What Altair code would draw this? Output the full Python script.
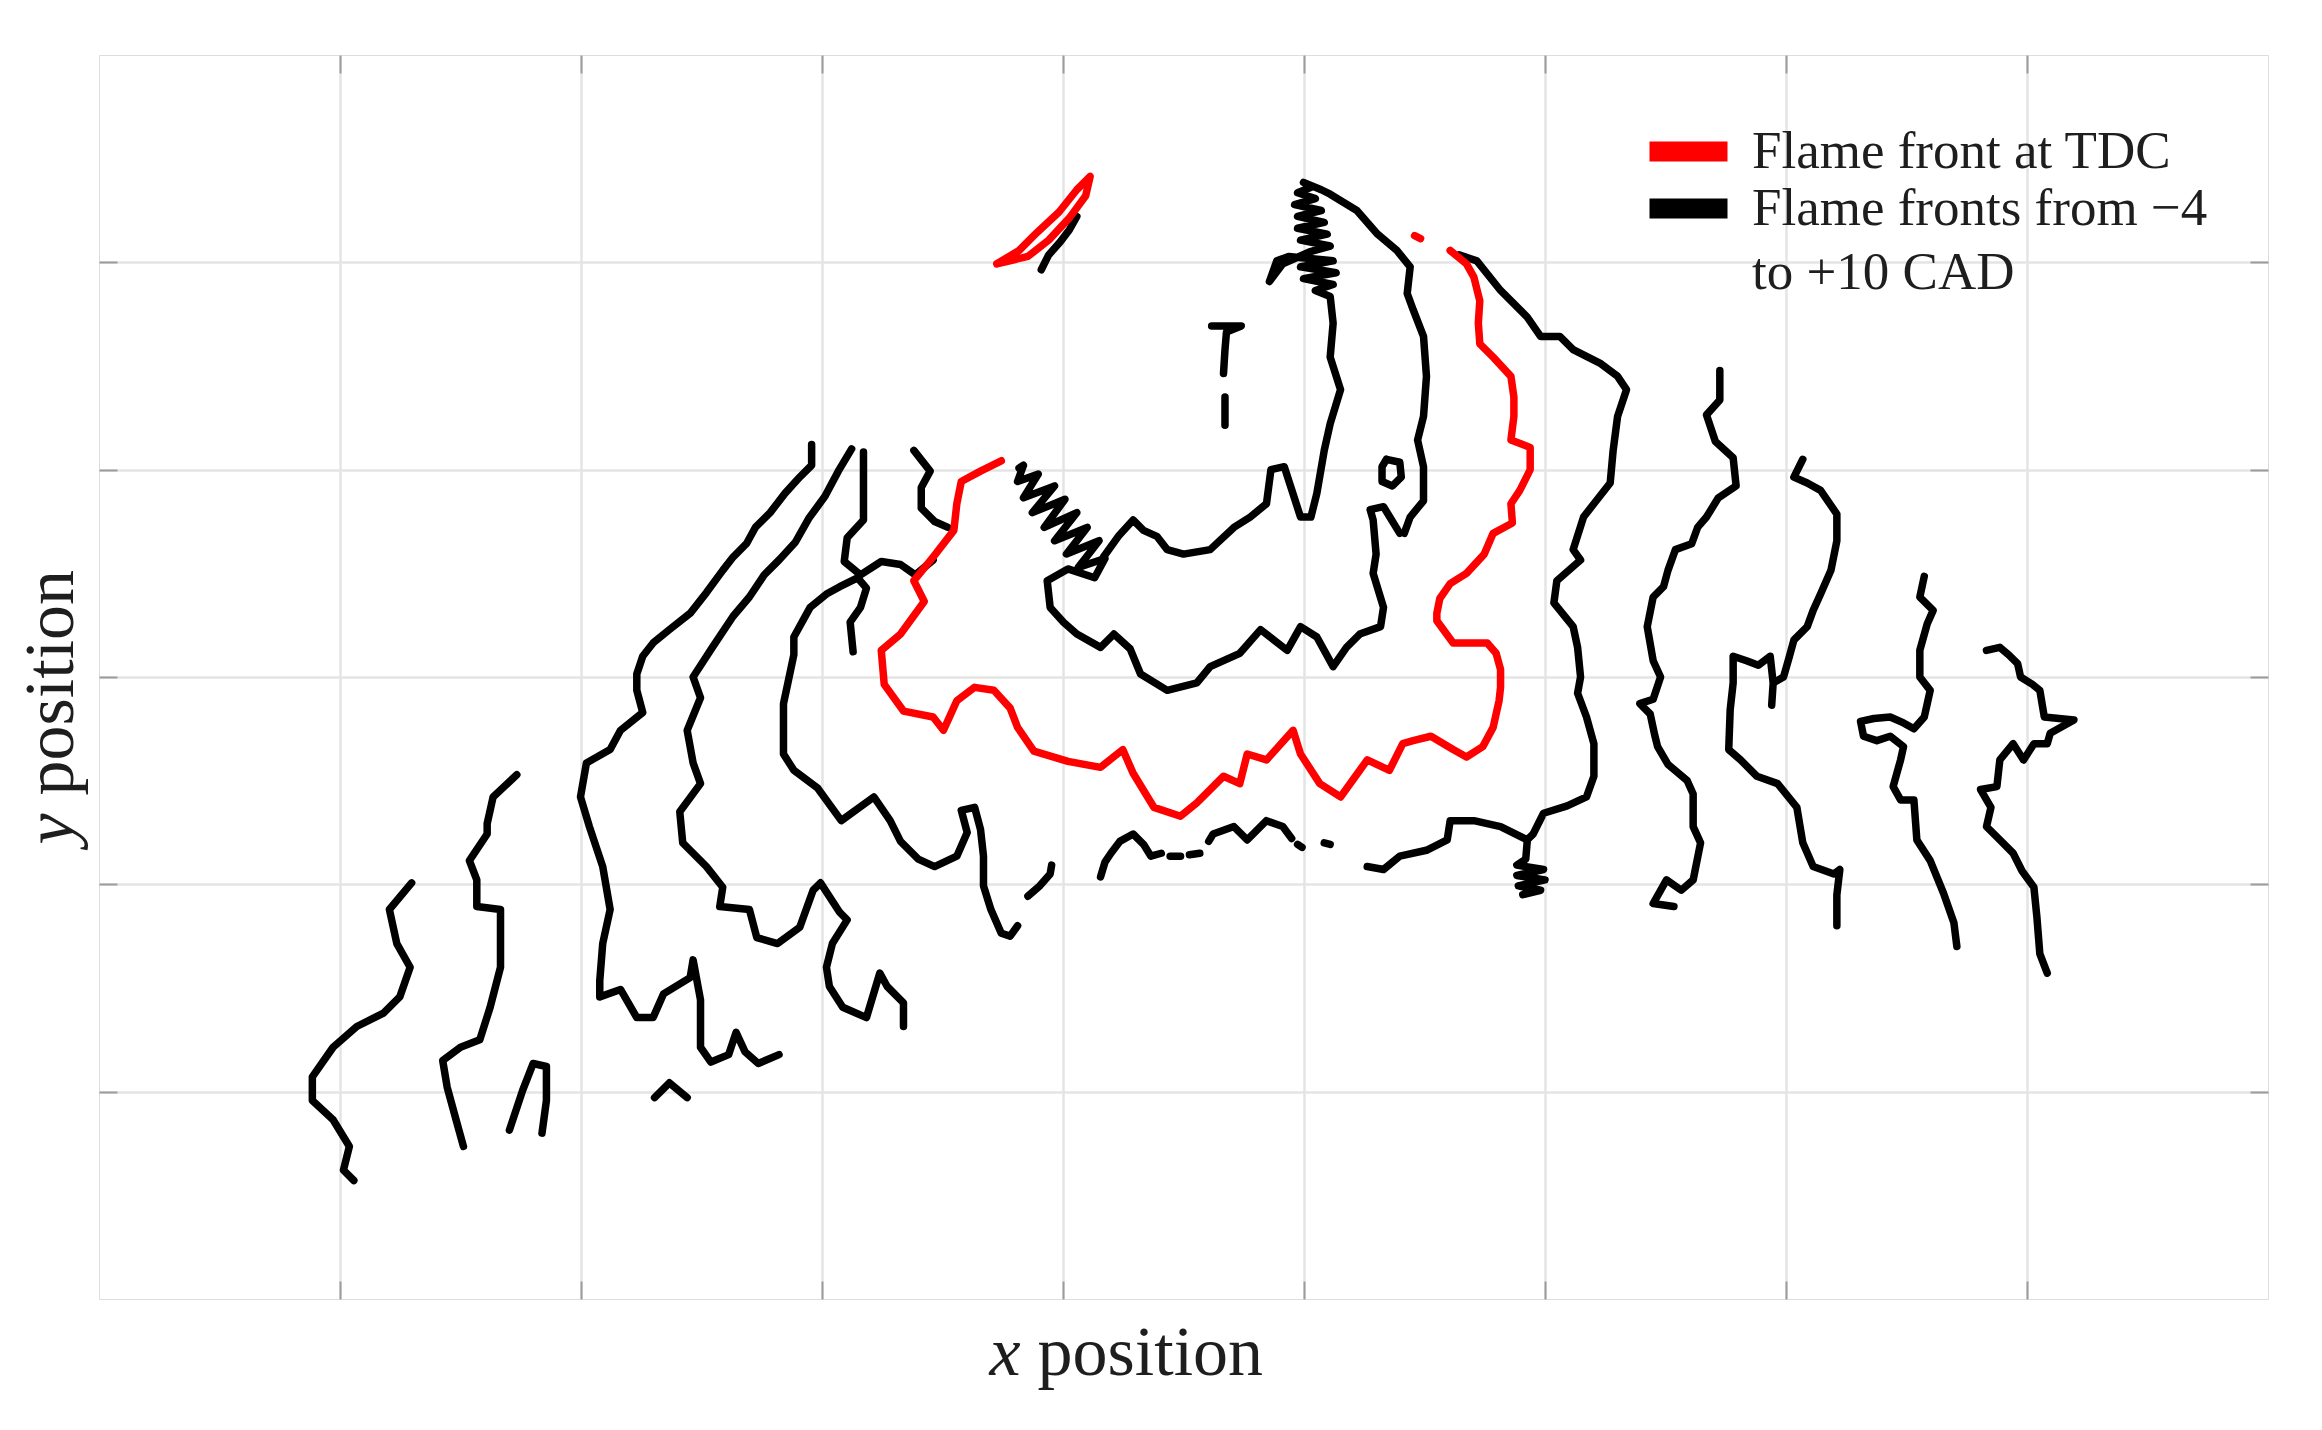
import altair as alt
import pandas as pd

# ---------------------------------------------------------------
# Flame-front contours traced in the image plane (position units,
# y grows downward as in the camera image).
# ---------------------------------------------------------------
tdc_main = [(979,169),(990,178),(995,187),(999,203),(998,218),(999,232),(1008,241),(1020,254),(1022,268),
            (1022,281),(1020,297),(1033,302),(1033,317),(1026,331),(1020,340),(1021,353),(1008,360),(1002,374),
            (990,387),(979,394),(972,404),(970,414),(970,419),(981,434),(1004,434),(1010,441),(1013,452),
            (1013,464),(1012,473),(1008,491),(1001,504),(990,511),(981,506),(966,497),(954,500),(947,502),
            (938,520),(923,513),(918,520),(905,538),(891,529),(878,509),(873,493),(855,513),(842,509),
            (837,529),(826,524),(808,542),(797,551),(779,545),(765,522),(758,506),(743,518),(721,514),
            (698,507),(687,491),(682,478),(671,466),(658,464),(646,473),(637,493),(630,484),(610,480),
            (597,462),(595,439),(608,428),(624,406),(617,392),(630,376),(644,358),(646,340),(649,325),
            (662,318),(676,311)]
tdc_sliver = [(673,178),(688,169),(700,157),(715,143),(727,128),(736,119),(733,132),(722,147),(708,162),
              (694,173),(673,178)]
tdc_dot = [(955,159),(959,161)]

front_a = [(278,596),(263,614),(268,637),(277,653),(270,673),(259,684),(241,693),(225,707),(211,727),
           (211,743),(225,756),(236,774),(232,790),(239,797)]
front_b = [(349,523),(333,538),(329,556),(329,563),(317,581),(322,594),(322,612),(338,614),(338,630),
           (338,653),(331,680),(324,702),(311,707),(299,716),(302,734),(308,756),(313,774)]
front_c = [(344,763),(353,736),(360,718),(369,720),(369,743),(366,765)]
front_d = [(442,741),(452,731),(464,741)]
front_f = [(548,300),(548,314),(540,322),(530,333),(520,346),(510,356),(504,367),(495,376),(488,385),
           (477,400),(466,414),(452,425),(441,434),(434,443),(430,455),(430,466),(434,481),(419,493),
           (412,506),(396,515),(392,538),(398,558),(407,585),(412,614),(407,637),(405,662),(405,673),
           (419,668),(430,687),(441,687),(448,671),(466,660),(468,648),(473,675),(473,707),(480,717),
           (492,712),(497,697),(503,710),(512,718),(526,712)]
front_g = [(575,303),(566,318),(557,335),(546,350),(537,366),(526,378),(516,388),(506,403),(495,416),
           (481,437),(468,457),(473,471),(464,493),(468,515),(473,529),(459,548),(461,569),(477,585),
           (488,599),(486,612),(506,614),(511,633),(525,637),(540,626),(549,601),(554,596),(567,616),
           (572,621),(562,637),(558,653),(560,666),(569,680),(585,687),(594,657),(599,666),(610,677),
           (610,693)]
front_h_top = [(583,305),(583,320),(583,336),(583,351),(572,363),(570,379),(581,388),(595,379),(608,381),
               (618,388),(630,378)]
front_h_low = [(576,440),(574,420),(581,410),(585,397),(579,390),(567,396),(558,401),(547,410),(536,430),
               (536,442),(529,475),(529,509),(536,520),(552,532),(568,554),(590,538),(601,554),(608,568),
               (620,580),(631,585),(646,578),(653,562),(649,547),(658,545),(662,560),(664,578),(664,598),
               (669,614),(676,630),(682,632),(687,625)]
front_q = [(617,304),(628,318),(622,329),(622,343),(631,352),(640,356)]
front_top = [(703,182),(708,172),(716,163),(722,155),(727,146)]
front_i1 = [(818,220),(838,220),(828,224),(827,236),(826,252)]
front_i2 = [(827,268),(827,287)]
front_inner_c = [(745,376),(755,362),(765,351),(772,358),(781,362),(788,371),(799,374),(817,371),(833,356),
                 (844,349),(855,340),(858,317),(867,315),(878,349),(885,349),(889,333),(894,304),(898,286),
                 (905,263),(898,241),(900,218),(898,200),(888,196),(900,192),(880,188),(902,184),(878,180),
                 (900,176),(870,173),(862,176),(857,190),(866,178),(884,170),(898,166),(878,162),(896,158),
                 (876,154),(894,150),(876,146),(892,142),(874,138),(888,134),(876,130),(886,126),(880,123),
                 (892,128),(898,131),(916,142),(930,158),(943,169),(952,180),(950,198),
                 (954,209),(961,227),(963,254),(961,281),(957,297),(961,315),(961,338),(952,349),(948,360)]
front_inner_u = [(688,316),(691,314),(687,325),(701,320),(691,336),(712,328),(697,346),(719,337),(705,356),
                 (727,346),(712,365),(734,356),(720,374),(742,365),(728,383),(746,377),(739,390),
                 (721,384),(707,392),(709,410),(718,420),(727,428),(743,437),(752,428),(763,438),(770,455),
                 (788,466),(808,461),(817,450),(837,441),(851,425),(869,439),(878,423),(889,430),(900,450),
                 (909,437),(918,428),(932,423),(934,410),(927,387),(929,374),(927,351),(925,344),(934,342),
                 (945,360)]
front_loop = [(936,310),(945,312),(946,322),(940,328),(933,325),(933,315),(936,310)]
front_k = [(985,172),(997,176),(1013,196),(1031,214),(1040,227),(1053,227),(1062,236),(1080,245),(1092,254),
           (1098,263),(1092,281),(1089,304),(1087,326),(1076,340),(1069,349),(1062,371),(1067,378),(1051,392),
           (1049,407),(1062,423),(1065,437),(1067,457),(1065,468),(1071,484),(1076,502),(1076,524),(1071,538),
           (1058,544),(1042,549),(1035,563),(1031,567),(1013,558),(995,554),(979,554),(977,567),(963,574),
           (945,578),(934,587),(923,585)]
front_k_blob = [(1031,568),(1030,580),(1024,584),(1042,587),(1024,591),(1043,594),(1025,598),(1040,601),
                (1028,604)]
front_l1 = [(743,592),(746,582),(750,576),(756,568),(765,563),(772,570),(777,578),(784,576)]
front_l2 = [(790,578),(797,578)]
front_l3 = [(803,577),(810,576)]
front_l4 = [(816,568),(819,563),(833,558),(842,567),(855,554),(866,558),(872,566)]
front_l5 = [(876,570),(879,572)]
front_l6 = [(894,569),(898,570)]
front_slash = [(694,605),(702,598),(709,590),(710,584)]
front_m = [(1161,250),(1161,270),(1152,280),(1158,298),(1170,309),(1172,328),(1160,336),(1152,349),(1146,356),
           (1142,367),(1131,371),(1126,385),(1123,396),(1116,403),(1112,423),(1116,446),(1121,457),(1116,472),
           (1107,475),(1114,482),(1117,496),(1119,504),(1126,516),(1139,527),(1143,536),(1143,558),(1148,569),
           (1143,594),(1135,601),(1125,594),(1116,610),(1130,612)]
front_n = [(1217,310),(1211,322),(1220,326),(1229,331),(1240,347),(1240,365),(1236,385),(1229,401),(1224,412),
           (1220,423),(1211,432),(1208,443),(1204,457),(1197,461),(1196,476),(1197,461),(1195,443),(1187,449),
           (1179,446),(1170,443),(1170,461),(1168,479),(1167,506),(1175,513),(1186,524),(1200,529),(1213,545),
           (1217,569),(1224,585),(1238,590),(1242,587),(1240,604),(1240,625)]
front_o = [(1299,389),(1296,403),(1305,412),(1301,421),(1296,439),(1296,457),(1303,466),(1299,484),(1292,492),
           (1285,488),(1276,484),(1265,485),(1256,487),(1258,497),(1267,500),(1276,497),(1285,504),(1283,513),
           (1278,531),(1283,540),(1292,540),(1294,567),(1303,581),(1312,603),(1319,623),(1321,639)]
front_p = [(1341,439),(1350,437),(1356,442),(1362,448),(1364,457),(1372,462),(1377,466),(1380,484),(1400,486),
           (1384,495),(1382,502),(1373,502),(1366,513),(1359,502),(1350,513),(1348,531),(1337,533),(1344,545),
           (1341,558),(1350,567),(1359,576),(1365,588),(1373,599),(1375,619),(1377,644),(1382,657)]

LABEL_TDC = "Flame front at TDC"
LABEL_CAD = "Flame fronts from \u22124\nto +10 CAD"

red_segments = {"tdc_main": tdc_main, "tdc_sliver": tdc_sliver, "tdc_dot": tdc_dot}
black_segments = {
    "a": front_a, "b": front_b, "c": front_c, "d": front_d, "f": front_f, "g": front_g,
    "h_top": front_h_top, "h_low": front_h_low, "q": front_q, "top": front_top,
    "i1": front_i1, "i2": front_i2, "inner_c": front_inner_c, "inner_u": front_inner_u,
    "loop": front_loop, "k": front_k, "k_blob": front_k_blob, "l1": front_l1, "l2": front_l2,
    "l3": front_l3, "l4": front_l4, "l5": front_l5, "l6": front_l6, "slash": front_slash,
    "m": front_m, "n": front_n, "o": front_o, "p": front_p,
}

x_grid = [229.7, 392.4, 555.1, 717.8, 880.5, 1043.2, 1205.9, 1368.6]
y_grid = [177, 317, 457, 597, 737]

rows = []
for label, segs in ((LABEL_CAD, black_segments), (LABEL_TDC, red_segments)):
    for name, pts in segs.items():
        for i, (x, y) in enumerate(pts):
            rows.append({"seg": name, "idx": i, "x": x, "y": y, "front": label})
df = pd.DataFrame(rows)

FONT = "Liberation Serif"
xs = alt.Scale(domain=[67, 1531], nice=False, zero=False)
ys = alt.Scale(domain=[37, 877], nice=False, zero=False, reverse=True)

legend_common = dict(
    title=None, orient="none", legendX=1563, padding=0,
    symbolType="M-3,0H3", symbolSize=676, symbolStrokeWidth=20,
    labelFont=FONT, labelFontSize=53, labelColor="#1e1e1e", labelLimit=1200, labelOffset=37,
)
legend_red = alt.Legend(legendY=70, **legend_common)
legend_black = alt.Legend(legendY=127, labelExpr="split(datum.label, '\\n')", **legend_common)

base = alt.Chart(df)
LW = 7.5

black = base.transform_filter(alt.datum.front == LABEL_CAD).mark_line(
    strokeWidth=LW, strokeJoin="round", strokeCap="round"
).encode(
    x=alt.X("x:Q", scale=xs, axis=alt.Axis(
        values=x_grid, grid=True, gridColor="#e4e4e4", gridWidth=2.5, ticks=False, labels=False,
        domain=False, title="position", titleFont=FONT, titleFontSize=70, titleFontWeight="normal",
        titleColor="#1e1e1e", titleAlign="left", titleX=938, titleY=75, titleBaseline="alphabetic")),
    y=alt.Y("y:Q", scale=ys, axis=alt.Axis(
        values=y_grid, grid=True, gridColor="#e4e4e4", gridWidth=2.5, ticks=False, labels=False,
        domain=False, title="position", titleFont=FONT, titleFontSize=70, titleFontWeight="normal",
        titleColor="#1e1e1e", titleAngle=270, titleAlign="left", titleX=-27, titleY=740,
        titleBaseline="alphabetic")),
    color=alt.Color("front:N", scale=alt.Scale(domain=[LABEL_CAD], range=["#000000"]),
                    legend=legend_black),
    detail="seg:N",
    order="idx:Q",
)

red = base.transform_filter(alt.datum.front == LABEL_TDC).mark_line(
    strokeWidth=LW, strokeJoin="round", strokeCap="round"
).encode(
    x=alt.X("x:Q", scale=xs, axis=None),
    y=alt.Y("y:Q", scale=ys, axis=None),
    stroke=alt.Stroke("front:N", scale=alt.Scale(domain=[LABEL_TDC], range=["#ff0000"]),
                      legend=legend_red),
    detail="seg:N",
    order="idx:Q",
)

tick_common = dict(ticks=True, tickSize=18, tickColor="#9c9c9c", tickWidth=2, labels=False,
                   domain=False, grid=False, offset=-18)

ticks_bl = base.mark_point(opacity=0).encode(
    x=alt.X("x:Q", scale=xs, axis=alt.Axis(
        values=x_grid, orient="bottom", title="x", titleFont=FONT, titleFontSize=70,
        titleFontStyle="italic", titleFontWeight="normal", titleColor="#1e1e1e", titleAlign="left",
        titleX=890, titleY=93, titleBaseline="alphabetic", **tick_common)),
    y=alt.Y("y:Q", scale=ys, axis=alt.Axis(
        values=y_grid, orient="left", title="y", titleFont=FONT, titleFontSize=70,
        titleFontStyle="italic", titleFontWeight="normal", titleColor="#1e1e1e", titleAngle=270,
        titleAlign="left", titleX=-45, titleY=789, titleBaseline="alphabetic", **tick_common)),
)

ticks_tr = base.mark_point(opacity=0).encode(
    x=alt.X("x:Q", scale=xs, axis=alt.Axis(values=x_grid, orient="top", title=None, **tick_common)),
    y=alt.Y("y:Q", scale=ys, axis=alt.Axis(values=y_grid, orient="right", title=None, **tick_common)),
)

chart = alt.layer(black, red, ticks_bl, ticks_tr).resolve_axis(
    x="independent", y="independent"
).properties(
    width=2169, height=1244,
    autosize=alt.AutoSizeParams(type="none"),
    padding={"left": 91, "top": 47, "right": 46, "bottom": 110},
).configure_view(
    stroke="#b4b4b4", strokeWidth=3.5
).configure(
    background="white",
    style={"guide-label": {"lineHeight": 64}},
)

chart.save("out.html", embed_options={"renderer": "svg", "actions": False})
